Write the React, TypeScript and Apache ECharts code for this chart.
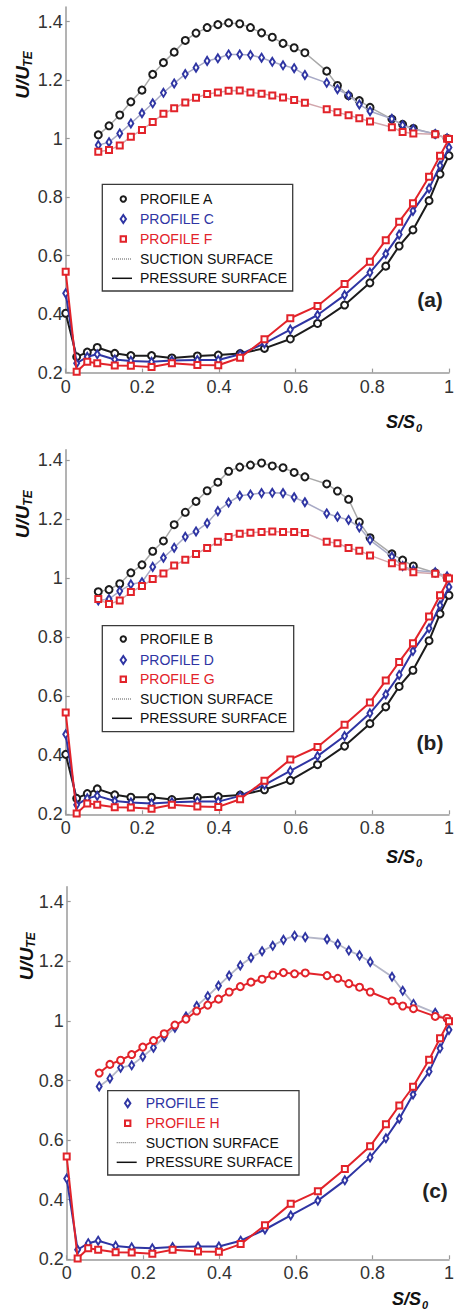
import React, { useEffect, useRef } from "react";
import * as echarts from "echarts";

// ---------- DATA ----------
const xTicks = [0, 0.2, 0.4, 0.6, 0.8, 1];
const yTicks = [0.2, 0.4, 0.6, 0.8, 1, 1.2, 1.4];

const suctionX = [0.085, 0.113, 0.141, 0.170, 0.199, 0.227, 0.255, 0.283, 0.312, 0.340, 0.369, 0.397, 0.425, 0.454, 0.482, 0.511, 0.539, 0.567, 0.596, 0.624, 0.681, 0.709, 0.738, 0.766, 0.794, 0.851, 0.879, 0.907, 0.964, 0.995];
const pressureX = [0, 0.0286, 0.0563, 0.0823, 0.128, 0.17, 0.224, 0.277, 0.3435, 0.398, 0.455, 0.5186, 0.586, 0.657, 0.7276, 0.7936, 0.835, 0.87, 0.906, 0.948, 0.9766, 1.0];

// panel (a) suction
const suctionA = [1.013, 1.044, 1.081, 1.126, 1.166, 1.22, 1.26, 1.296, 1.336, 1.361, 1.38, 1.39, 1.396, 1.393, 1.38, 1.362, 1.347, 1.326, 1.311, 1.294, 1.231, 1.182, 1.147, 1.13, 1.107, 1.067, 1.049, 1.035, 1.016, 1.001];
const suctionC = [0.978, 0.988, 1.018, 1.052, 1.087, 1.121, 1.157, 1.189, 1.221, 1.243, 1.266, 1.275, 1.288, 1.288, 1.286, 1.277, 1.263, 1.251, 1.241, 1.218, 1.191, 1.169, 1.149, 1.117, 1.094, 1.068, 1.046, 1.033, 1.016, 1.001];
const suctionF = [0.955, 0.961, 0.977, 1.007, 1.030, 1.057, 1.085, 1.104, 1.124, 1.14, 1.153, 1.158, 1.164, 1.165, 1.158, 1.154, 1.148, 1.141, 1.132, 1.123, 1.101, 1.09, 1.08, 1.07, 1.059, 1.039, 1.023, 1.018, 1.015, 1.0];
// panel (b) suction
const suctionB = [0.954, 0.961, 0.981, 1.018, 1.045, 1.091, 1.126, 1.181, 1.223, 1.26, 1.296, 1.325, 1.362, 1.376, 1.383, 1.39, 1.38, 1.374, 1.358, 1.343, 1.319, 1.295, 1.267, 1.19, 1.137, 1.082, 1.061, 1.041, 1.018, 1.001];
const suctionD = [0.924, 0.929, 0.956, 0.979, 0.986, 1.038, 1.069, 1.103, 1.14, 1.158, 1.186, 1.227, 1.256, 1.279, 1.283, 1.288, 1.289, 1.288, 1.274, 1.257, 1.219, 1.208, 1.197, 1.172, 1.129, 1.073, 1.041, 1.027, 1.02, 1.006];
const suctionG = [0.929, 0.912, 0.924, 0.953, 0.973, 0.997, 1.016, 1.043, 1.062, 1.082, 1.102, 1.123, 1.139, 1.15, 1.154, 1.156, 1.158, 1.156, 1.156, 1.153, 1.123, 1.118, 1.102, 1.093, 1.077, 1.05, 1.039, 1.02, 1.015, 1.001];
// panel (c) suction
const suctionE = [0.78, 0.807, 0.843, 0.851, 0.88, 0.91, 0.946, 0.977, 1.015, 1.05, 1.083, 1.118, 1.152, 1.186, 1.212, 1.234, 1.252, 1.272, 1.286, 1.281, 1.274, 1.258, 1.236, 1.22, 1.198, 1.148, 1.101, 1.057, 1.027, 1.002];
const suctionH = [0.825, 0.854, 0.868, 0.887, 0.912, 0.934, 0.957, 0.986, 1.006, 1.033, 1.053, 1.073, 1.097, 1.115, 1.13, 1.14, 1.154, 1.162, 1.158, 1.161, 1.152, 1.143, 1.125, 1.113, 1.097, 1.067, 1.05, 1.041, 1.015, 1.009];

// pressure surfaces
const pressureBlack = [0.403, 0.254, 0.270, 0.286, 0.266, 0.258, 0.258, 0.250, 0.257, 0.260, 0.265, 0.283, 0.315, 0.368, 0.431, 0.507, 0.564, 0.633, 0.688, 0.788, 0.879, 0.942];
const pressureBlue = [0.471, 0.232, 0.254, 0.2625, 0.245, 0.24, 0.237, 0.241, 0.243, 0.243, 0.2625, 0.30, 0.347, 0.397, 0.465, 0.542, 0.606, 0.672, 0.753, 0.830, 0.908, 0.970];
const pressureRed = [0.545, 0.203, 0.237, 0.232, 0.224, 0.223, 0.219, 0.232, 0.226, 0.225, 0.251, 0.314, 0.386, 0.428, 0.503, 0.579, 0.653, 0.716, 0.779, 0.870, 0.942, 0.999];

const panelLabels = ["(a)", "(b)", "(c)"];
const legendA = ["PROFILE A", "PROFILE C", "PROFILE F"];
const legendB = ["PROFILE B", "PROFILE D", "PROFILE G"];
const legendC = ["PROFILE E", "PROFILE H"];
const lineLabels = ["SUCTION SURFACE", "PRESSURE SURFACE"];

// ---------- STYLE ----------
const BLACK = "#1c1c1c";
const BLUE = "#2f35a3";
const RED = "#e2232a";
const GRAY_K = "#a9a9a9";
const GRAY_B = "#a8aac6";
const GRAY_R = "#d2a6ac";
const FONT = "'Liberation Sans', Arial, sans-serif";

const pairs = (xs: number[], ys: number[]) => xs.map((x, i) => [x, ys[i]]);

type Marker = "circle" | "diamond" | "rect";

function series(
  gi: number,
  xs: number[],
  ys: number[],
  marker: Marker,
  color: string,
  lineColor: string,
  lineWidth: number,
  z: number
) {
  const sym = marker === "circle" ? "emptyCircle" : marker === "diamond" ? "emptyDiamond" : "emptyRect";
  const size = marker === "circle" ? 7 : marker === "diamond" ? [5, 8] : 6;
  return {
    type: "line",
    xAxisIndex: gi,
    yAxisIndex: gi,
    data: pairs(xs, ys),
    symbol: sym,
    symbolSize: size,
    showAllSymbol: true,
    z,
    lineStyle: { color: lineColor, width: lineWidth },
    itemStyle: { color, borderWidth: 2 },
    emphasis: { disabled: true },
  };
}

function axisPair(gi: number, yMax: number) {
  const x = {
    type: "value",
    gridIndex: gi,
    min: 0,
    max: 1,
    interval: 0.2,
    axisLine: { show: true, lineStyle: { color: "#9a9a9a", width: 1.5 } },
    axisTick: { show: true, inside: true, length: 4, customValues: xTicks, lineStyle: { color: "#9a9a9a", width: 1.2 } },
    splitLine: { show: false },
    axisLabel: { fontSize: 18, fontFamily: FONT, color: "#333", margin: 5, customValues: xTicks },
  };
  const y = {
    type: "value",
    gridIndex: gi,
    min: 0.2,
    max: yMax,
    interval: 0.2,
    axisLine: { show: true, lineStyle: { color: "#9a9a9a", width: 1.5 } },
    axisTick: { show: true, inside: true, length: 4, customValues: yTicks, lineStyle: { color: "#9a9a9a", width: 1.2 } },
    splitLine: { show: false },
    axisLabel: { fontSize: 18, fontFamily: FONT, color: "#333", margin: 3, customValues: yTicks },
  };
  return { x, y };
}

function txt(x: number, y: number, text: string, font: string, fill: string, align = "left", vAlign = "middle", rotation = 0) {
  return {
    type: "text",
    x,
    y,
    rotation,
    z: 100,
    style: { text, font, fill, textAlign: align, align, textVerticalAlign: vAlign, verticalAlign: vAlign },
  };
}

function legend(
  box: [number, number, number, number],
  rows: number[],
  mx: number,
  tx: number,
  lx1: number,
  lx2: number,
  items: { label: string; marker: Marker; color: string }[]
) {
  const els: any[] = [
    { type: "rect", z: 99, shape: { x: box[0], y: box[1], width: box[2], height: box[3] }, style: { fill: "#fff", stroke: "#3a3a3a", lineWidth: 1.3 } },
  ];
  items.forEach((it, i) => {
    const cy = rows[i];
    if (it.marker === "circle") {
      els.push({ type: "circle", z: 100, shape: { cx: mx, cy, r: 2.7 }, style: { fill: "#fff", stroke: it.color, lineWidth: 2 } });
    } else if (it.marker === "diamond") {
      els.push({ type: "polygon", z: 100, shape: { points: [[mx, cy - 4], [mx + 2.7, cy], [mx, cy + 4], [mx - 2.7, cy]] }, style: { fill: "#fff", stroke: it.color, lineWidth: 2 } });
    } else {
      els.push({ type: "rect", z: 100, shape: { x: mx - 2.7, y: cy - 2.7, width: 5.4, height: 5.4 }, style: { fill: "#fff", stroke: it.color, lineWidth: 2 } });
    }
    els.push(txt(tx, cy, it.label, `14px ${FONT}`, it.color === BLACK ? "#111" : it.color));
  });
  const n = items.length;
  els.push({ type: "line", z: 100, shape: { x1: lx1, y1: rows[n], x2: lx2, y2: rows[n] }, style: { stroke: "#555", lineWidth: 1, lineDash: [1, 1] } });
  els.push(txt(tx, rows[n], lineLabels[0], `14px ${FONT}`, "#111"));
  els.push({ type: "line", z: 100, shape: { x1: lx1, y1: rows[n + 1], x2: lx2, y2: rows[n + 1] }, style: { stroke: "#111", lineWidth: 1.5 } });
  els.push(txt(tx, rows[n + 1], lineLabels[1], `14px ${FONT}`, "#111"));
  return els;
}

function axisNames(uX: number, uY: number, teX: number, teY: number, sX: number, sY: number) {
  const bi = `italic bold 19px ${FONT}`;
  return [
    txt(uX, uY, "U/U", bi, "#111", "center", "middle", Math.PI / 2),
    txt(teX, teY, "TE", `italic bold 12px ${FONT}`, "#111", "center", "middle", Math.PI / 2),
    txt(sX, sY, "S/S", `italic bold 18px ${FONT}`, "#111", "left", "middle"),
    txt(sX + 30, sY + 6, "0", `italic bold 11px ${FONT}`, "#111", "left", "middle"),
  ];
}

export default function App() {
  const ref = useRef<HTMLDivElement>(null);
  useEffect(() => {
    if (!ref.current) return;
    const chart = echarts.init(ref.current, null, { renderer: "svg" });
    const a0 = axisPair(0, 1.45);
    const a1 = axisPair(1, 1.435);
    const a2 = axisPair(2, 1.45);

    const graphic: any[] = [
      ...axisNames(22.7, 82.5, 28, 59, 386, 422),
      ...axisNames(22.7, 522, 28, 498, 386, 857),
      ...axisNames(26, 964, 31, 940, 392, 1299),
      txt(430, 299, panelLabels[0], `bold 21px ${FONT}`, "#222", "center", "middle"),
      txt(430, 742, panelLabels[1], `bold 21px ${FONT}`, "#222", "center", "middle"),
      txt(435, 1190, panelLabels[2], `bold 21px ${FONT}`, "#222", "center", "middle"),
      ...legend([102.3, 184.3, 190.4, 106.7], [199, 219, 239, 259, 278.3], 123.3, 140, 112, 132, [
        { label: legendA[0], marker: "circle", color: BLACK },
        { label: legendA[1], marker: "diamond", color: BLUE },
        { label: legendA[2], marker: "rect", color: RED },
      ]),
      ...legend([102.3, 625.7, 191.4, 106], [639, 660, 679.3, 699, 718.3], 123.3, 140, 112, 132, [
        { label: legendB[0], marker: "circle", color: BLACK },
        { label: legendB[1], marker: "diamond", color: BLUE },
        { label: legendB[2], marker: "rect", color: RED },
      ]),
      ...legend([107.7, 1090.7, 191.3, 84.3], [1103.3, 1123.3, 1142.7, 1162.3], 127.7, 145.7, 116.7, 136.7, [
        { label: legendC[0], marker: "diamond", color: BLUE },
        { label: legendC[1], marker: "rect", color: RED },
      ]),
    ];

    chart.setOption({
      animation: false,
      grid: [
        { left: 65.7, top: 7.1, width: 384.3, height: 365.5 },
        { left: 65.7, top: 449.7, width: 384.3, height: 364.6 },
        { left: 66.7, top: 886.8, width: 388.3, height: 372.5 },
      ],
      xAxis: [a0.x, a1.x, a2.x],
      yAxis: [a0.y, a1.y, a2.y],
      series: [
        // (a)
        series(0, suctionX, suctionA, "circle", BLACK, GRAY_K, 1.5, 3),
        series(0, suctionX, suctionC, "diamond", BLUE, GRAY_B, 1.5, 4),
        series(0, suctionX, suctionF, "rect", RED, GRAY_R, 1.5, 5),
        series(0, pressureX, pressureBlack, "circle", BLACK, BLACK, 2, 6),
        series(0, pressureX, pressureBlue, "diamond", BLUE, BLUE, 2, 7),
        series(0, pressureX, pressureRed, "rect", RED, RED, 2, 8),
        // (b)
        series(1, suctionX, suctionB, "circle", BLACK, GRAY_K, 1.5, 3),
        series(1, suctionX, suctionD, "diamond", BLUE, GRAY_B, 1.5, 4),
        series(1, suctionX, suctionG, "rect", RED, GRAY_R, 1.5, 5),
        series(1, pressureX, pressureBlack, "circle", BLACK, BLACK, 2, 6),
        series(1, pressureX, pressureBlue, "diamond", BLUE, BLUE, 2, 7),
        series(1, pressureX, pressureRed, "rect", RED, RED, 2, 8),
        // (c)
        series(2, suctionX, suctionE, "diamond", BLUE, "#b4b6c8", 1.8, 4),
        series(2, suctionX, suctionH, "circle", RED, RED, 2, 5),
        series(2, pressureX, pressureBlue, "diamond", BLUE, BLUE, 2, 7),
        series(2, pressureX, pressureRed, "rect", RED, RED, 2, 8),
      ],
      graphic,
    });
    return () => chart.dispose();
  }, []);
  return (
    <div
      ref={ref}
      style={{ position: "absolute", left: 0, top: 0, width: 457, height: 1312, background: "#fff" }}
    />
  );
}
